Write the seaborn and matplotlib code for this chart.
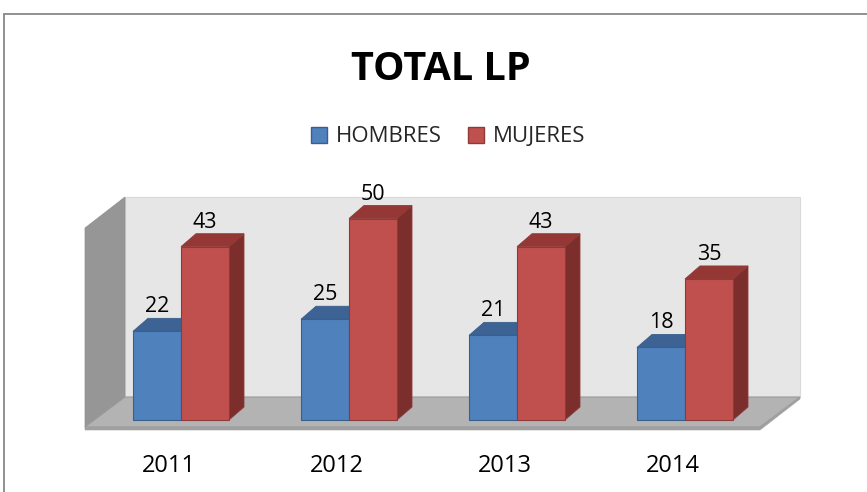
import matplotlib
matplotlib.use("Agg")
import matplotlib.pyplot as plt
from matplotlib.patches import Polygon, Rectangle, Patch
import matplotlib.transforms as mtransforms
import seaborn as sns
import pandas as pd

# ---- data ----
years = ["2011", "2012", "2013", "2014"]
series_names = ["HOMBRES", "MUJERES"]
hombres = [22, 25, 21, 18]
mujeres = [43, 50, 43, 35]
title = "TOTAL LP"

front_colors = ["#4f81bd", "#c0504d"]
top_colors = ["#3c6394", "#953735"]
side_colors = ["#395d89", "#7b2e2c"]
edge_colors = ["#3a5f8b", "#8e3a37"]

sns.set_theme(style="white")
plt.rcParams["font.family"] = ["Open Sans", "DejaVu Sans"]

W, H = 867, 492
fig = plt.figure(figsize=(W / 100, H / 100), dpi=100)
fig.patch.set_facecolor("white")

# pixel geometry helpers
X0, XS = 181.0, 168.0   # px of category 0, px per category
Y0, YS = 420.0, 4.03    # px of value 0, px per unit


def P(xp, yp):
    return ((xp - X0) / XS, (Y0 - yp) / YS)


ax_l, ax_r, ax_t, ax_b = 85, 800, 190, 432
ax = fig.add_axes([ax_l / W, 1 - ax_b / H, (ax_r - ax_l) / W, (ax_b - ax_t) / H])
ax.set_facecolor("none")

df = pd.DataFrame({
    "year": years * 2,
    "sex": [series_names[0]] * 4 + [series_names[1]] * 4,
    "value": hombres + mujeres,
})
sns.barplot(data=df, x="year", y="value", hue="sex", palette=front_colors,
            width=0.5714, saturation=1, ax=ax, legend=False, linewidth=0.8)

ax.set_xlim(P(ax_l, 0)[0], P(ax_r, 0)[0])
ax.set_ylim(P(0, ax_b)[1], P(0, ax_t)[1])

# walls & floor (drawn in data coords derived from pixel layout)
def poly(pts, **kw):
    p = Polygon([P(*q) for q in pts], closed=True, clip_on=False, **kw)
    ax.add_patch(p)
    return p

poly([(125, 197), (800, 197), (800, 397), (125, 397)], fc="#e6e6e6", ec="#d9d9d9", lw=0.8, zorder=0.1)
poly([(85, 228), (125, 197), (125, 397), (85, 427)], fc="#969696", ec="#8e8e8e", lw=0.5, zorder=0.2)
poly([(85, 427), (125, 397), (800, 397), (760, 427)], fc="#b3b3b3", ec="#9a9a9a", lw=0.8, zorder=0.3)
poly([(85, 427), (760, 427), (800, 397), (800, 399), (760, 430), (85, 430)], fc="#a0a0a0", ec="#a0a0a0", lw=0.4, zorder=0.3)

# 3D faces of the bars
dx = 15 / XS
dy = 13 / YS
n = len(years)
for i, bar in enumerate(ax.patches[: 2 * n]):
    s = i // n
    x0 = bar.get_x()
    w = bar.get_width()
    h = bar.get_height()
    z = 2 + s
    bar.set_facecolor(front_colors[s])
    bar.set_edgecolor(edge_colors[s])
    bar.set_linewidth(0.8)
    bar.set_zorder(z + 0.5)
    side = Polygon([(x0 + w, 0), (x0 + w + dx, dy), (x0 + w + dx, h + dy), (x0 + w, h)],
                   closed=True, fc=side_colors[s], ec=edge_colors[s], lw=0.6, zorder=z)
    top = Polygon([(x0, h), (x0 + w, h), (x0 + w + dx, h + dy), (x0 + dx, h + dy)],
                  closed=True, fc=top_colors[s], ec=edge_colors[s], lw=0.6, zorder=z)
    ax.add_patch(side)
    ax.add_patch(top)
    ax.annotate(f"{int(h)}", xy=(x0 + w / 2, h), xytext=(0, 19 * 0.72),
                textcoords="offset points", ha="center", va="baseline",
                fontsize=15.5, color="black", zorder=10)

sns.despine(ax=ax, left=True, bottom=True)
ax.set_yticks([])
ax.set_xlabel("")
ax.set_ylabel("")
ax.tick_params(axis="x", length=0, pad=15.5, labelsize=17, labelcolor="black")
offset = mtransforms.ScaledTranslation(-12 / 100, 0, fig.dpi_scale_trans)
for lbl in ax.get_xticklabels():
    lbl.set_transform(lbl.get_transform() + offset)

# title
fig.text(440.5 / W, 1 - 80 / H, title, ha="center", va="baseline",
         fontsize=28.5, fontweight="bold", color="black")

# legend
handles = [Patch(facecolor=front_colors[k], edgecolor=edge_colors[k], linewidth=1.0,
                 label=series_names[k]) for k in range(2)]
fig.legend(handles=handles, loc="center", bbox_to_anchor=(448.5 / W, 1 - 137 / H),
           ncol=2, frameon=False, fontsize=16, handlelength=0.72, handleheight=0.72,
           handletextpad=0.4, columnspacing=1.17, borderpad=0, borderaxespad=0)

# outer chart border
fig.add_artist(Rectangle((4 / W, -0.2), 2, (1 - 14 / H) + 0.2, transform=fig.transFigure,
                         fill=False, ec="#888888", lw=1.3))

fig.savefig("out.png", dpi=100, facecolor="white")
